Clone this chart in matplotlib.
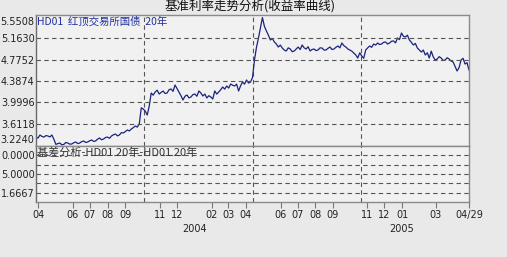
import matplotlib
matplotlib.use("Agg")
import matplotlib.pyplot as plt
import matplotlib.dates as mdates
import pandas as pd

plt.rcParams['font.family'] = ['Noto Sans CJK SC', 'DejaVu Sans']

# half-weekly yield of HD01 20y
dates = pd.date_range('2003-03-28', '2005-04-29', freq='84h')
yields = [3.369, 3.350, 3.406, 3.380, 3.369, 3.395, 3.388, 3.370, 3.406, 3.330,
          3.235, 3.250, 3.260, 3.228, 3.235, 3.270, 3.260, 3.240, 3.242, 3.265,
          3.279, 3.250, 3.260, 3.285, 3.297, 3.270, 3.279, 3.300, 3.315, 3.290,
          3.297, 3.330, 3.351, 3.320, 3.333, 3.360, 3.369, 3.345, 3.388, 3.410,
          3.424, 3.390, 3.406, 3.450, 3.442, 3.470, 3.497, 3.480, 3.515, 3.540,
          3.569, 3.550, 3.606, 3.900, 3.878, 3.840, 3.769, 3.930, 4.169, 4.130,
          4.188, 4.220, 4.151, 4.180, 4.206, 4.160, 4.169, 4.230, 4.242, 4.200,
          4.315, 4.250, 4.188, 4.120, 4.042, 4.110, 4.133, 4.080, 4.097, 4.140,
          4.151, 4.110, 4.206, 4.170, 4.115, 4.150, 4.079, 4.120, 4.097, 4.060,
          4.206, 4.150, 4.188, 4.230, 4.278, 4.240, 4.297, 4.260, 4.333, 4.310,
          4.297, 4.330, 4.206, 4.300, 4.369, 4.330, 4.406, 4.350, 4.369, 4.450,
          4.769, 5.000, 5.169, 5.350, 5.540, 5.380, 5.296, 5.220, 5.133, 5.160,
          5.096, 5.060, 5.005, 5.040, 4.987, 4.950, 4.933, 4.990, 4.969, 4.920,
          4.933, 4.970, 5.005, 4.960, 5.042, 4.990, 4.969, 5.010, 4.933, 4.960,
          4.969, 4.940, 4.951, 4.990, 4.987, 4.950, 4.951, 4.980, 5.005, 4.960,
          4.969, 5.000, 5.024, 4.990, 5.078, 5.030, 5.005, 4.970, 4.951, 4.930,
          4.896, 4.860, 4.805, 4.900, 4.842, 4.800, 4.951, 4.990, 5.024, 5.000,
          5.060, 5.040, 5.078, 5.050, 5.060, 5.090, 5.096, 5.060, 5.078, 5.110,
          5.115, 5.080, 5.169, 5.140, 5.260, 5.200, 5.187, 5.220, 5.133, 5.090,
          5.042, 5.070, 4.987, 4.950, 4.914, 4.950, 4.860, 4.900, 4.805, 4.930,
          4.824, 4.770, 4.787, 4.830, 4.805, 4.760, 4.769, 4.810, 4.787, 4.750,
          4.733, 4.650, 4.569, 4.630, 4.769, 4.800, 4.696, 4.720, 4.587]

top_ticks = [3.2240, 3.6118, 3.9996, 4.3874, 4.7752, 5.1630, 5.5508]
bot_ticks = [1, 3, 5]
bot_labels = ['1.6667', '5.0000', '0.0000']

xtick_dates = ['2003-04-01', '2003-06-01', '2003-07-01', '2003-08-01', '2003-09-01',
               '2003-11-01', '2003-12-01', '2004-02-01', '2004-03-01', '2004-04-01',
               '2004-06-01', '2004-07-01', '2004-08-01', '2004-09-01', '2004-11-01',
               '2004-12-01', '2005-01-01', '2005-03-01', '2005-04-29']
xtick_labels = ['04', '06', '07', '08', '09', '11', '12', '02', '03', '04',
                '06', '07', '08', '09', '11', '12', '01', '03', '04/29']
years = ['2004', '2005']
year_pos = ['2004-01-01', '2005-01-01']

fig = plt.figure(figsize=(5.07, 2.57), dpi=100, facecolor='#e9e9e9')
ax1 = fig.add_axes([36/507, 111/257, 433/507, 131/257])
ax2 = fig.add_axes([36/507, 55/257, 433/507, 56/257], sharex=ax1)

xmin = mdates.date2num(pd.Timestamp('2003-03-28'))
xmax = mdates.date2num(pd.Timestamp('2005-04-29'))

for ax in (ax1, ax2):
    ax.set_facecolor('#f1f1f1')
    for s in ax.spines.values():
        s.set_color('#8a8a8a')
        s.set_linewidth(1)
    ax.spines['left'].set_color('#6a6a6a')
    ax.set_xlim(xmin, xmax)
    for q in (0.25, 0.5, 0.75):
        ax.axvline(xmin + q*(xmax - xmin), color='#555555', lw=0.8, ls=(0, (4, 3)))
    ax.tick_params(axis='y', length=0, pad=1, labelsize=7, labelcolor='#222222')

ax1.plot(mdates.date2num(dates), yields, color='#1a237e', lw=0.9)
ax1.set_ylim(3.206, 5.587)
ax1.set_yticks(top_ticks)
ax1.set_yticklabels(['%.4f' % v for v in top_ticks], family='DejaVu Sans')
labs = ax1.get_yticklabels()
labs[0].set_va('bottom')
labs[-1].set_va('top')
for v in top_ticks[1:-1]:
    ax1.axhline(v, color='#555555', lw=0.8, ls=(0, (4, 3)))
ax1.tick_params(axis='x', bottom=False, labelbottom=False)
ax1.text(0.002, 0.985, 'HD01  红顶交易所国债  20年', transform=ax1.transAxes,
         color='#2030a0', fontsize=7.5, va='top', ha='left')

ax2.set_ylim(0, 6)
ax2.set_yticks(bot_ticks)
ax2.set_yticklabels(bot_labels, family='DejaVu Sans')
for v in range(1, 6):
    ax2.axhline(v, color='#555555', lw=0.8, ls=(0, (4, 3)))
ax2.text(0.002, 0.97, '基差分析-HD01 20年-HD01 20年', transform=ax2.transAxes,
         color='#333333', fontsize=8, va='top', ha='left')
xt = [mdates.date2num(pd.Timestamp(d)) for d in xtick_dates]
ax2.set_xticks(xt)
ax2.set_xticklabels(xtick_labels, family='DejaVu Sans')
ax2.tick_params(axis='x', length=4, width=0.8, color='#777777', pad=2,
                labelsize=7, labelcolor='#222222')
for y, p in zip(years, year_pos):
    ax2.text(mdates.date2num(pd.Timestamp(p)), -0.48, y, transform=ax2.get_xaxis_transform(),
             ha='center', va='center', fontsize=7, family='DejaVu Sans', color='#222222')

fig.text(250/507, 1 - 6/257, '基准利率走势分析(收益率曲线)', ha='center', va='center',
         fontsize=9, color='#111111')

fig.savefig('out.png', dpi=100, facecolor=fig.get_facecolor())
